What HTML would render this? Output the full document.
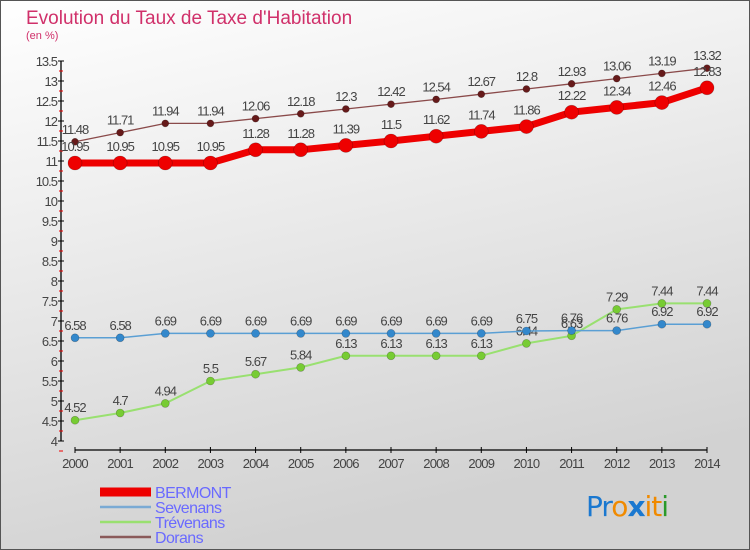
<!DOCTYPE html>
<html><head><meta charset="utf-8"><style>
body{margin:0;width:750px;height:550px;overflow:hidden;font-family:"Liberation Sans",sans-serif}
svg{display:block}
</style></head><body>
<svg id="chart" width="750" height="550">
<defs><linearGradient id="bg" x1="0" y1="0" x2="0.3" y2="1"><stop offset="0" stop-color="#ffffff"/><stop offset="1" stop-color="#d2d2d2"/></linearGradient></defs>
<rect width="750" height="550" fill="url(#bg)"/>
<rect x="0.5" y="0.5" width="749" height="549" fill="none" stroke="#555"/>
<text x="26" y="24" font-size="19" fill="#d0306a">Evolution du Taux de Taxe d'Habitation</text>
<text x="26" y="39" font-size="11" fill="#d0306a">(en %)</text>
<g id="axes"></g><g id="series"></g><g id="legend"></g>
<text x="586" y="516" font-size="28" font-family="'DejaVu Sans',sans-serif" letter-spacing="-1"><tspan fill="#1a78d0">Pr</tspan><tspan fill="#f08a00">o</tspan><tspan fill="#1a78d0" font-weight="bold">x</tspan><tspan fill="#f08a00">it</tspan><tspan fill="#2a9a2a">i</tspan></text>
</svg>
<script>
const years=[2000,2001,2002,2003,2004,2005,2006,2007,2008,2009,2010,2011,2012,2013,2014];
const bermont=[10.95,10.95,10.95,10.95,11.28,11.28,11.39,11.5,11.62,11.74,11.86,12.22,12.34,12.46,12.83];
const sevenans=[6.58,6.58,6.69,6.69,6.69,6.69,6.69,6.69,6.69,6.69,6.75,6.76,6.76,6.92,6.92];
const trevenans=[4.52,4.7,4.94,5.5,5.67,5.84,6.13,6.13,6.13,6.13,6.44,6.63,7.29,7.44,7.44];
const dorans=[11.48,11.71,11.94,11.94,12.06,12.18,12.3,12.42,12.54,12.67,12.8,12.93,13.06,13.19,13.32];
const yTicks=[4,4.5,5,5.5,6,6.5,7,7.5,8,8.5,9,9.5,10,10.5,11,11.5,12,12.5,13,13.5];
const NS="http://www.w3.org/2000/svg";
const x=i=>75+i*(632/14);
const y=v=>61+(13.5-v)*40;
function mk(tag,attrs,parent,txt){const e=document.createElementNS(NS,tag);for(const k in attrs)e.setAttribute(k,attrs[k]);if(txt!==undefined)e.textContent=txt;parent.appendChild(e);return e;}
const axes=document.getElementById('axes');
let a=mk('line',{x1:61,y1:y(13.5),x2:61,y2:y(4),stroke:'#000','stroke-width':1.3},axes);


yTicks.forEach(v=>{
 mk('line',{x1:58,x2:64,y1:y(v),y2:y(v),stroke:'#000'},axes);
 mk('line',{x1:59,x2:63,y1:y(v)+10,y2:y(v)+10,stroke:'#e00'},axes);
 const t=mk('text',{x:57,y:y(v)+5,'font-size':13,fill:'#444','text-anchor':'end','letter-spacing':'-1'},axes,String(v));
 
 
});
a=mk('line',{x1:x(0),y1:450,x2:x(14),y2:450,stroke:'#000','stroke-width':1.3},axes);


years.forEach((yr,i)=>{
 mk('line',{x1:x(i),x2:x(i),y1:447,y2:453,stroke:'#000'},axes);
 const t=mk('text',{x:x(i),y:468,'font-size':13,fill:'#444','text-anchor':'middle','letter-spacing':'-0.8'},axes,String(yr));
 
 
});
const S=document.getElementById('series');
const defs=[
 {n:'trevenans',d:trevenans,c:'#99e070',w:2,r:4,f:'#77cc33'},
 {n:'sevenans',d:sevenans,c:'#5a9fd4',w:1.5,r:4,f:'#3388cc'},
 {n:'dorans',d:dorans,c:'#8a4a4a',w:1.3,r:3.5,f:'#661a1a'},
 {n:'bermont',d:bermont,c:'#ee0000',w:7,r:7,f:'#ee0000'}
];
defs.forEach(s=>{
 const g=mk('g',{},S);
 
 
 const p=mk('polyline',{points:s.d.map((v,i)=>x(i)+','+y(v)).join(' '),fill:'none',stroke:s.c,'stroke-width':s.w},g);
 
 
 s.d.forEach((v,i)=>{
  const c=mk('circle',{cx:x(i),cy:y(v),r:s.r,fill:s.f,stroke:'rgba(0,0,0,0.3)','stroke-width':0.6},g);
  
  
  const t=mk('text',{x:x(i),y:y(v)-(s.n==='bermont'?12:8),'font-size':13,fill:'#444','text-anchor':'middle','letter-spacing':'-1'},g,String(v));
  
  
 });
});
const L=document.getElementById('legend');
[['BERMONT','#ee0000',9,492],['Sevenans','#7aaad4',2.5,507],['Trévenans','#99e070',2.5,522],['Dorans','#8a5a5a',2.5,537]].forEach(e=>{
 const g=mk('g',{},L);
 
 
 mk('line',{x1:100,x2:151,y1:e[3],y2:e[3],stroke:e[1],'stroke-width':e[2]},g);
 mk('text',{x:155,y:e[3]+6,'font-size':16,fill:'#6a6aff','letter-spacing':'-0.6'},g,e[0]);
});
</script>
</body></html>
